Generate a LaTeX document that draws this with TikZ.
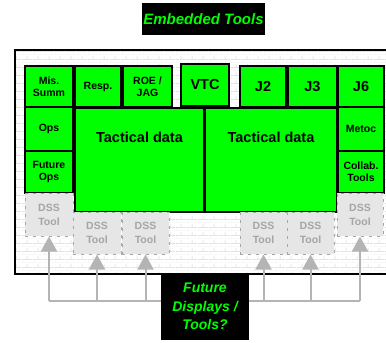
\documentclass[tikz,border=0pt]{standalone}
\usepackage{fontspec}
\setmainfont{Liberation Sans}
\usetikzlibrary{arrows.meta,patterns.meta}
\definecolor{lime}{RGB}{0,255,0}
\definecolor{dssfill}{RGB}{230,230,230}
\definecolor{dsstext}{RGB}{165,165,165}
\definecolor{dssline}{RGB}{165,165,165}
\definecolor{arrowgray}{RGB}{180,180,180}
\definecolor{brickline}{RGB}{215,215,215}
\tikzdeclarepattern{name=brickwall, type=uncolored,
  bounding box={(0pt,0pt) and (11pt,8pt)}, tile size={(11pt,8pt)},
  code={\draw[line width=0.5pt] (0pt,0pt) -- (11pt,0pt) (0pt,4pt) -- (11pt,4pt)
        (0pt,0pt) -- (0pt,4pt) (5.5pt,4pt) -- (5.5pt,8pt);}}
\tikzset{
  gbox/.style={draw=black, line width=1.5pt, fill=lime, font=\bfseries\fontsize{10.5}{12}\selectfont, align=center, inner sep=0pt},
  bigtxt/.style={font=\bfseries\fontsize{14.5}{16}\selectfont},
  dssbox/.style={draw=dssline, dash pattern=on 3pt off 5pt, line width=1pt, fill=dssfill, text=dsstext, font=\bfseries\fontsize{10.5}{14}\selectfont, align=center, inner sep=0pt},
  blackbox/.style={fill=black, text=lime, font=\bfseries\itshape\fontsize{14}{18.3}\selectfont, align=center, inner sep=0pt},
  gline/.style={draw=arrowgray, line width=2pt},
  garrow/.style={gline, -{Triangle[width=16pt,length=15pt]}, arrowgray},
}
\begin{document}
\begin{tikzpicture}[x=1pt,y=-1pt]
\useasboundingbox (0,0) rectangle (386,343);
\clip (0,0) rectangle (386,343);
% title
\node[blackbox, font=\bfseries\itshape\fontsize{15}{18}\selectfont, minimum width=123pt, minimum height=32pt] (title) at (203.5,19) {Embedded Tools};
% frame
\fill[white] (15,50) rectangle (400,274);
\fill[pattern=brickwall, pattern color=brickline] (15,50) rectangle (400,274);
\draw[black, line width=1.5pt] (15,50) rectangle (400,274);
% top row
\node[gbox, minimum width=48pt, minimum height=41pt] (mis) at (49,86.5) {Mis.\\Summ};
\node[gbox, minimum width=46pt, minimum height=41pt] (resp) at (98,86.5) {Resp.};
\node[gbox, minimum width=49pt, minimum height=41pt] (roe) at (147.5,86.5) {ROE /\\JAG};
\node[gbox, bigtxt, minimum width=48pt, minimum height=42pt] (vtc) at (205,85) {VTC};
\node[gbox, bigtxt, minimum width=46pt, minimum height=41pt] (j2) at (263,86.5) {J2};
\node[gbox, bigtxt, minimum width=49pt, minimum height=41pt] (j3) at (312.5,86.5) {J3};
\node[gbox, bigtxt, minimum width=46pt, minimum height=41pt] (j6) at (361,86.5) {J6};
% left column
\node[gbox, minimum width=48pt, minimum height=44pt] (ops) at (49,129) {Ops};
\node[gbox, minimum width=48pt, minimum height=42pt] (futops) at (49,172) {Future\\Ops};
% tactical
\node[gbox, minimum width=129pt, minimum height=104pt,
  label={[bigtxt, anchor=center, yshift=-30pt]north:Tactical data}] (tac1) at (139.5,160) {};
\node[gbox, minimum width=132pt, minimum height=104pt,
  label={[bigtxt, anchor=center, yshift=-30pt]north:Tactical data}] (tac2) at (271,160) {};
% right column
\node[gbox, minimum width=46pt, minimum height=44pt] (metoc) at (361,129) {Metoc};
\node[gbox, minimum width=46pt, minimum height=42pt] (collab) at (361,172) {Collab.\\Tools};
% DSS tools
\node[dssbox, minimum width=48pt, minimum height=43pt] (dss1) at (49,214.5) {DSS\\Tool};
\node[dssbox, minimum width=48pt, minimum height=42pt] (dss2) at (97,233) {DSS\\Tool};
\node[dssbox, minimum width=47pt, minimum height=42pt] (dss3) at (145.5,233) {DSS\\Tool};
\node[dssbox, minimum width=47pt, minimum height=42pt] (dss4) at (263.5,233) {DSS\\Tool};
\node[dssbox, minimum width=47pt, minimum height=42pt] (dss5) at (310.5,233) {DSS\\Tool};
\node[dssbox, minimum width=46pt, minimum height=43pt] (dss6) at (360,214.5) {DSS\\Tool};
% future box
\node[blackbox, minimum width=88pt, minimum height=67pt] (fut) at (205,306.5) {Future\\Displays /\\Tools?};
% connectors
\coordinate (tl) at (49,301);
\coordinate (tr) at (360,301);
\draw[gline] (tl) -- (fut.west |- tl);
\draw[gline] (fut.east |- tr) -- (tr);
\foreach \d in {dss1,dss2,dss3,dss4,dss5,dss6}{
  \draw[garrow] (\d.south |- tl) -- (\d.south);
}
\end{tikzpicture}
\end{document}
